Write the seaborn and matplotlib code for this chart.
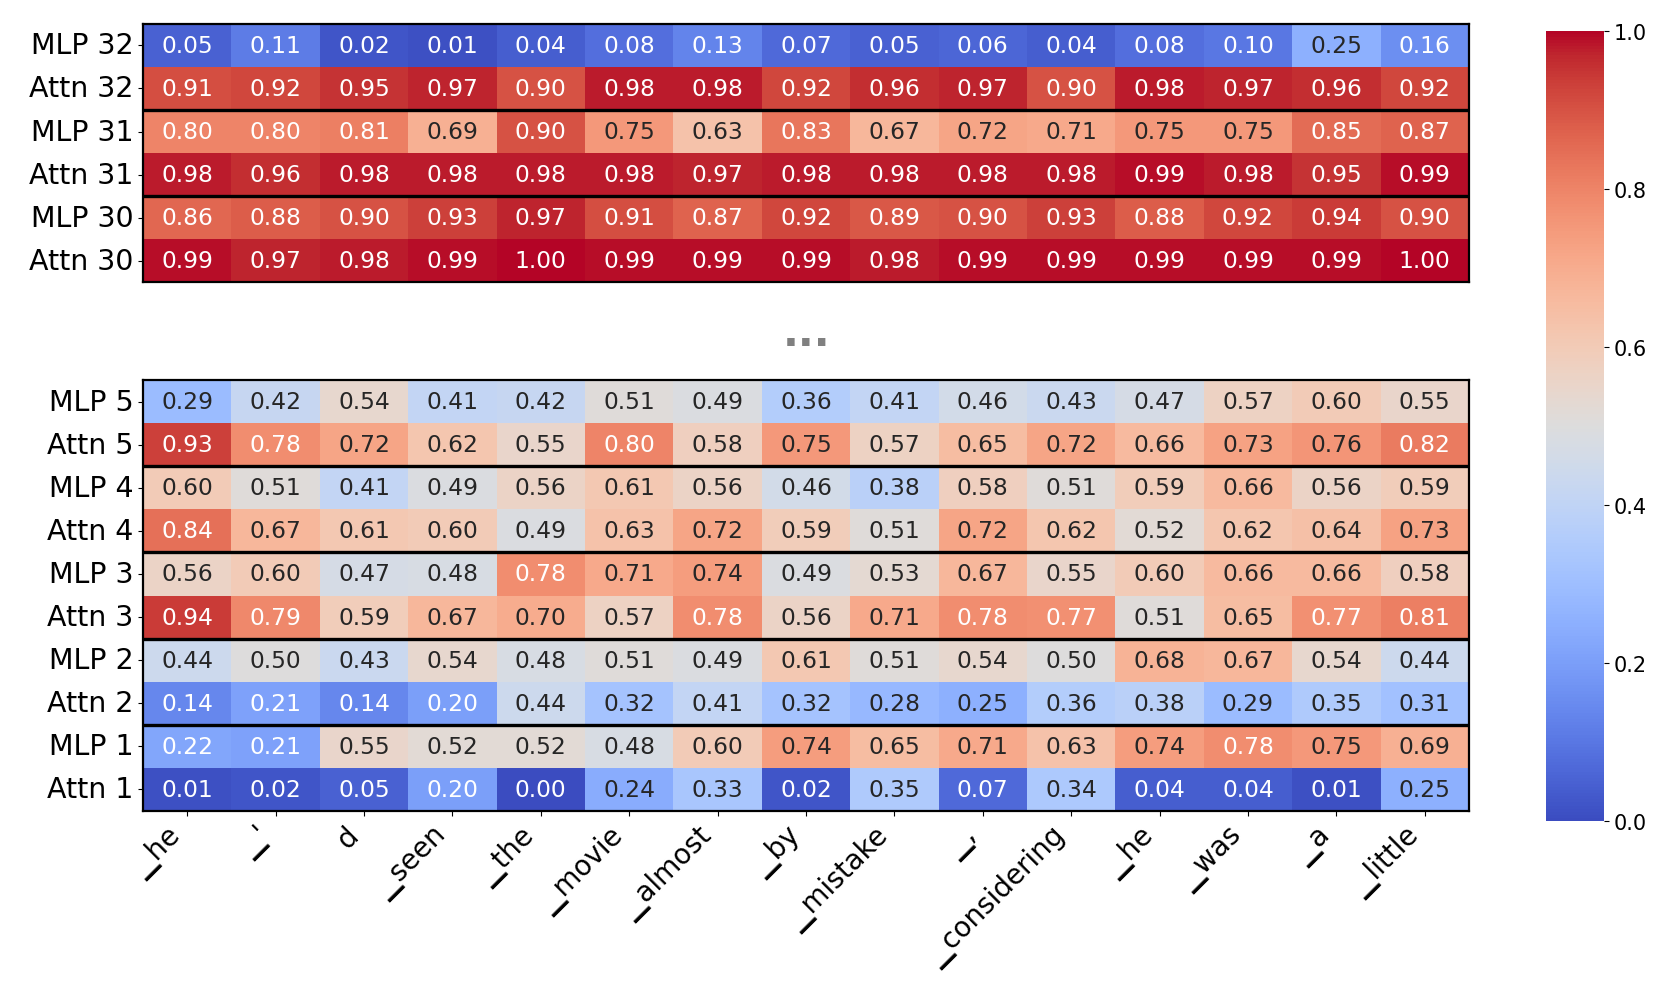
import numpy as np
import pandas as pd
import seaborn as sns
from matplotlib import pyplot as plt

# tokens along the x axis
tokens = ["\u2581he", "\u2581'", "d", "\u2581seen", "\u2581the", "\u2581movie", "\u2581almost",
          "\u2581by", "\u2581mistake", "\u2581,", "\u2581considering", "\u2581he", "\u2581was",
          "\u2581a", "\u2581little"]

top_labels = ["MLP 32", "Attn 32", "MLP 31", "Attn 31", "MLP 30", "Attn 30"]
bottom_labels = ["MLP 5", "Attn 5", "MLP 4", "Attn 4", "MLP 3", "Attn 3",
                 "MLP 2", "Attn 2", "MLP 1", "Attn 1"]

mlp32 = [0.05, 0.11, 0.02, 0.01, 0.04, 0.08, 0.13, 0.07, 0.05, 0.06, 0.04, 0.08, 0.10, 0.25, 0.16]
attn32 = [0.91, 0.92, 0.95, 0.97, 0.90, 0.98, 0.98, 0.92, 0.96, 0.97, 0.90, 0.98, 0.97, 0.96, 0.92]
mlp31 = [0.80, 0.80, 0.81, 0.69, 0.90, 0.75, 0.63, 0.83, 0.67, 0.72, 0.71, 0.75, 0.75, 0.85, 0.87]
attn31 = [0.98, 0.96, 0.98, 0.98, 0.98, 0.98, 0.97, 0.98, 0.98, 0.98, 0.98, 0.99, 0.98, 0.95, 0.99]
mlp30 = [0.86, 0.88, 0.90, 0.93, 0.97, 0.91, 0.87, 0.92, 0.89, 0.90, 0.93, 0.88, 0.92, 0.94, 0.90]
attn30 = [0.99, 0.97, 0.98, 0.99, 1.00, 0.99, 0.99, 0.99, 0.98, 0.99, 0.99, 0.99, 0.99, 0.99, 1.00]

mlp5 = [0.29, 0.42, 0.54, 0.41, 0.42, 0.51, 0.49, 0.36, 0.41, 0.46, 0.43, 0.47, 0.57, 0.60, 0.55]
attn5 = [0.93, 0.78, 0.72, 0.62, 0.55, 0.80, 0.58, 0.75, 0.57, 0.65, 0.72, 0.66, 0.73, 0.76, 0.82]
mlp4 = [0.60, 0.51, 0.41, 0.49, 0.56, 0.61, 0.56, 0.46, 0.38, 0.58, 0.51, 0.59, 0.66, 0.56, 0.59]
attn4 = [0.84, 0.67, 0.61, 0.60, 0.49, 0.63, 0.72, 0.59, 0.51, 0.72, 0.62, 0.52, 0.62, 0.64, 0.73]
mlp3 = [0.56, 0.60, 0.47, 0.48, 0.78, 0.71, 0.74, 0.49, 0.53, 0.67, 0.55, 0.60, 0.66, 0.66, 0.58]
attn3 = [0.94, 0.79, 0.59, 0.67, 0.70, 0.57, 0.78, 0.56, 0.71, 0.78, 0.77, 0.51, 0.65, 0.77, 0.81]
mlp2 = [0.44, 0.50, 0.43, 0.54, 0.48, 0.51, 0.49, 0.61, 0.51, 0.54, 0.50, 0.68, 0.67, 0.54, 0.44]
attn2 = [0.14, 0.21, 0.14, 0.20, 0.44, 0.32, 0.41, 0.32, 0.28, 0.25, 0.36, 0.38, 0.29, 0.35, 0.31]
mlp1 = [0.22, 0.21, 0.55, 0.52, 0.52, 0.48, 0.60, 0.74, 0.65, 0.71, 0.63, 0.74, 0.78, 0.75, 0.69]
attn1 = [0.01, 0.02, 0.05, 0.20, 0.00, 0.24, 0.33, 0.02, 0.35, 0.07, 0.34, 0.04, 0.04, 0.01, 0.25]

top_df = pd.DataFrame([mlp32, attn32, mlp31, attn31, mlp30, attn30], index=top_labels)
bottom_df = pd.DataFrame([mlp5, attn5, mlp4, attn4, mlp3, attn3, mlp2, attn2, mlp1, attn1],
                         index=bottom_labels)

fig = plt.figure(figsize=(16.61, 10.03), dpi=100)
ax_top = fig.add_axes([0.0861, 0.7178, 0.7983, 0.2573])
ax_bot = fig.add_axes([0.0861, 0.1904, 0.7983, 0.4297])
cax = fig.add_axes([0.9308, 0.1805, 0.0349, 0.7878])

annot_kws = {"fontsize": 16.8}
sns.heatmap(top_df, ax=ax_top, cmap="coolwarm", vmin=0, vmax=1, annot=True, fmt=".2f",
            annot_kws=annot_kws, cbar=False)
sns.heatmap(bottom_df, ax=ax_bot, cmap="coolwarm", vmin=0, vmax=1, annot=True, fmt=".2f",
            annot_kws=annot_kws, cbar_ax=cax)

for ax, n in [(ax_top, len(top_labels)), (ax_bot, len(bottom_labels))]:
    # separators between layer pairs
    for y in range(2, n, 2):
        ax.axhline(y, color="black", lw=2.4)
    for s in ax.spines.values():
        s.set_visible(True)
        s.set_color("black")
        s.set_linewidth(1.6)
    ax.tick_params(axis="y", labelsize=20.5, rotation=0)

ax_top.set_xticks([])
ax_bot.set_xticks(np.arange(len(tokens)) + 0.5)
ax_bot.set_xticklabels(tokens, rotation=45, ha="right", fontsize=20)

cax.tick_params(labelsize=15)
cax.set_yticks([0.0, 0.2, 0.4, 0.6, 0.8, 1.0])

fig.text(0.4853, 0.655, "...", ha="center", va="baseline", fontsize=30,
         fontweight="bold", color="gray")

fig.savefig("out.png", dpi=100)
